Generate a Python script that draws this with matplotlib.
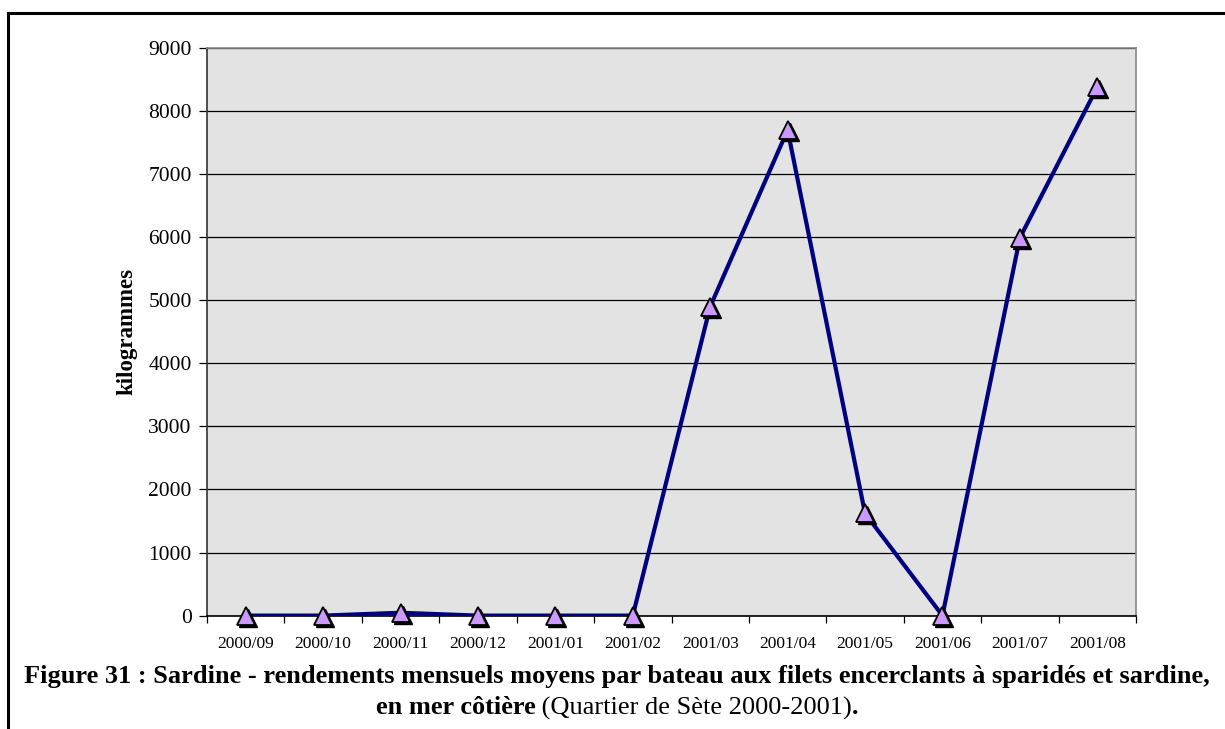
import matplotlib
matplotlib.use("Agg")
import matplotlib.pyplot as plt
from matplotlib.lines import Line2D
import matplotlib.transforms as mtransforms

months = ["2000/09", "2000/10", "2000/11", "2000/12", "2001/01", "2001/02",
          "2001/03", "2001/04", "2001/05", "2001/06", "2001/07", "2001/08"]
kilogrammes = [0, 0, 45, 0, 0, 0, 4900, 7700, 1620, 0, 5990, 8380]
yticks = [0, 1000, 2000, 3000, 4000, 5000, 6000, 7000, 8000, 9000]

plt.rcParams['font.family'] = ['Liberation Serif', 'DejaVu Serif']

W, H, DPI = 1225, 729, 100
fig = plt.figure(figsize=(W / DPI, H / DPI), dpi=DPI)
fig.patch.set_facecolor('white')

# outer frame (left and top)
fig.add_artist(Line2D([8 / W, 8 / W], [0, 1 - 13 / H], transform=fig.transFigure,
                      color='black', lw=2.2))
fig.add_artist(Line2D([8 / W, 1], [1 - 13 / H, 1 - 13 / H], transform=fig.transFigure,
                      color='black', lw=2.2))

ax = fig.add_axes([207 / W, 1 - 615.6 / H, (1136 - 207) / W, (615.6 - 48) / H])
ax.set_facecolor('#E3E3E3')

x = list(range(len(months)))
ax.plot(x, kilogrammes, color='#000080', lw=3.0, zorder=3)
shadow = mtransforms.offset_copy(ax.transData, fig=fig, x=2, y=-2, units='dots')
ax.plot(x, kilogrammes, ls='none', marker='^', ms=12.5, color='black',
        transform=shadow, zorder=4, clip_on=False)
ax.plot(x, kilogrammes, ls='none', marker='^', ms=12.5, mfc='#CC99FF',
        mec='black', mew=1.3, zorder=5, clip_on=False)

ax.set_xlim(-0.5, len(months) - 0.5)
ax.set_ylim(0, 9000)
ax.set_yticks(yticks)
ax.set_yticklabels([str(v) for v in yticks], fontsize=15.5)
ax.yaxis.grid(True, color='black', lw=0.9)
ax.set_axisbelow(True)

ax.set_xticks([i - 0.5 for i in range(len(months) + 1)])
ax.set_xticklabels([])
ax.set_xticks(x, minor=True)
ax.set_xticklabels(months, minor=True, fontsize=12.5)
ax.tick_params(axis='x', which='major', direction='out', length=5, width=0.9, color='black')
ax.tick_params(axis='x', which='minor', length=0, pad=15)
ax.tick_params(axis='y', direction='out', length=6, width=0.9, color='black', pad=5)

ax.spines['left'].set_color('#333333')
ax.spines['bottom'].set_color('black')
ax.spines['top'].set_color('#888888')
ax.spines['right'].set_color('#888888')
for s in ax.spines.values():
    s.set_linewidth(1.2)

ax.set_ylabel('kilogrammes', fontsize=16.5, fontweight='bold', labelpad=8)

# caption
fs = 19
fig.text(617 / W, 1 - 677 / H,
         "Figure 31 : Sardine - rendements mensuels moyens par bateau aux filets encerclants à sparidés et sardine,",
         ha='center', va='center', fontsize=fs, fontweight='bold')

parts = [("en mer côtière", 'bold'), (" (Quartier de Sète 2000-2001)", 'normal'), (".", 'bold')]
renderer = fig.canvas.get_renderer()
texts = []
widths = []
for s, w in parts:
    t = fig.text(0, 1 - 708 / H, s, ha='left', va='center', fontsize=fs, fontweight=w)
    texts.append(t)
    widths.append(t.get_window_extent(renderer).width)
total = sum(widths)
xstart = 617 - total / 2
for t, wd in zip(texts, widths):
    t.set_x(xstart / W)
    xstart += wd

fig.savefig('out.png', dpi=DPI)
